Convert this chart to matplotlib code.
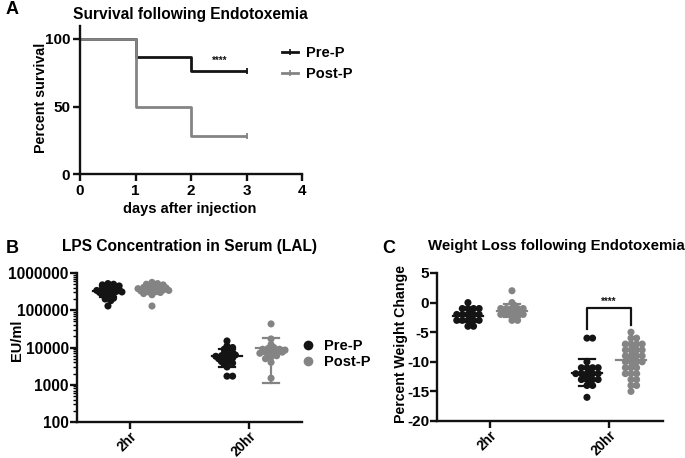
import numpy as np
import matplotlib
matplotlib.use("Agg")
import matplotlib.pyplot as plt
from matplotlib.lines import Line2D
from matplotlib.ticker import LogLocator, NullFormatter

plt.rcParams['font.family'] = ['Liberation Sans', 'DejaVu Sans']
plt.rcParams['font.weight'] = 'bold'
plt.rcParams['axes.unicode_minus'] = False

BLACK = '#141414'
GREY = '#848484'

# ---------------- Data ----------------
# Panel A: Kaplan-Meier survival
surv_days = [0, 1, 2, 3]
surv_pre = [100, 86.5, 76.5, 76.5]
surv_post = [100, 50, 28.5, 28.5]

groups = ['2hr', '20hr']
series = ['Pre-P', 'Post-P']

# Panel B: LPS concentration (EU/ml)
lps_pre_2hr = [130000, 180000, 200000, 210000, 230000, 260000, 280000, 290000, 300000,
               310000, 320000, 330000, 340000, 350000, 360000, 380000, 400000, 420000,
               450000, 480000, 500000, 520000]
lps_post_2hr = [130000, 260000, 280000, 300000, 310000, 320000, 330000, 340000, 350000,
                360000, 370000, 380000, 390000, 400000, 410000, 420000, 440000, 460000,
                480000, 500000, 520000, 560000]
lps_pre_20hr = [1700, 1700, 3000, 3500, 3800, 4000, 4200, 4500, 4800, 5000, 5200, 5500,
                5800, 6000, 6300, 6500, 7000, 7500, 8000, 9000, 10000, 11000, 15000]
lps_post_20hr = [1500, 4000, 5000, 5500, 6000, 6500, 7000, 7000, 7500, 7500, 8000, 8000,
                 8500, 9000, 9000, 9500, 10000, 12000, 17000, 43000]

# Panel C: percent weight change
wt_pre_2hr = [0, -1, -1, -1, -1, -1.5, -2, -2, -2, -2, -2, -2.5, -3, -3, -3, -3, -3,
              -3.5, -4, -4]
wt_post_2hr = [2, 0, -0.5, -1, -1, -1, -1, -1, -1.5, -1.5, -1.5, -1.5, -2, -2, -2, -2,
               -2, -2.5, -3, -3]
wt_pre_20hr = [-6, -6, -10, -11, -11, -11, -11, -11.5, -12, -12, -12, -12, -12, -12.5,
               -12.5, -13, -13, -13, -13, -13.5, -14, -14, -16]
wt_post_20hr = [-5, -6, -6, -7, -7, -7, -7, -7.5, -8, -8, -8, -8, -8.5, -9, -9, -9, -9,
                -9.5, -9.5, -10, -10, -10, -10, -10.5, -11, -11, -11, -12, -12, -12,
                -13, -13, -14, -14, -15]

# ---------------- Figure ----------------
W, H = 685, 458
fig = plt.figure(figsize=(W / 100, H / 100), dpi=100)


def px_axes(left, right, bottom, top):
    return fig.add_axes([left / W, 1 - bottom / H, (right - left) / W, (bottom - top) / H])


def style_axes(ax, lw=1.7):
    for s in ['top', 'right']:
        ax.spines[s].set_visible(False)
    for s in ['left', 'bottom']:
        ax.spines[s].set_linewidth(lw)
        ax.spines[s].set_color('#111111')
    ax.tick_params(which='major', direction='out', length=5, width=lw, color='#111111')


# ---------- Panel A ----------
axA = px_axes(80, 302, 174, 25.5)
style_axes(axA)
axA.step(surv_days, surv_pre, where='post', color=BLACK, lw=2.0, solid_capstyle='butt')
axA.step(surv_days, surv_post, where='post', color=GREY, lw=2.0, solid_capstyle='butt')
axA.plot([surv_days[-1]], [surv_pre[-1]], marker='|', color=BLACK, ms=5, mew=1.3)
axA.plot([surv_days[-1]], [surv_post[-1]], marker='|', color=GREY, ms=5, mew=1.3)
axA.set_xlim(0, 4)
axA.set_ylim(0, 110)
axA.set_xticks([0, 1, 2, 3, 4])
axA.set_yticks([0, 50, 100])
axA.tick_params(labelsize=11, pad=2)
axA.set_xlabel('days after injection', fontsize=10.5, fontweight='bold')
axA.xaxis.set_label_coords(0.495, -0.189)
axA.set_ylabel('Percent survival', fontsize=10.3, fontweight='bold')
axA.yaxis.set_label_coords(-0.145, 0.51)
axA.text(2.52, 80, '****', ha='center', va='bottom', fontsize=7, color=BLACK)
legA = [Line2D([0], [0], color=BLACK, lw=2.0, marker='|', ms=4, mew=1.2),
        Line2D([0], [0], color=GREY, lw=2.0, marker='|', ms=4, mew=1.2)]
axA.legend(legA, series, loc='upper left', bbox_to_anchor=(0.8825, 0.90), frameon=False,
           fontsize=10.5, handlelength=1.1, handletextpad=0.55, labelspacing=0.45,
           borderaxespad=0.0)

fig.text(190 / W, 1 - 15 / H, 'Survival following Endotoxemia', ha='center', va='center',
         fontsize=11.2, fontweight='bold')
fig.text(6 / W, 1 - 10 / H, 'A', ha='left', va='center', fontsize=13, fontweight='bold')


# ---------- swarm helper ----------
def swarm(ax, xc, vals, color, d=7.0, zorder=3):
    vals = np.asarray(vals, dtype=float)
    order = np.argsort(vals)[::-1]
    trans = ax.transData
    ypix = np.array([trans.transform((xc, v))[1] for v in vals])
    xpix0 = trans.transform((xc, vals[0]))[0]
    placed = []
    xs = np.zeros(len(vals))
    min_d = d * 0.48
    step = d * 0.4
    for i in order:
        y = ypix[i]
        k = 0
        while True:
            cands = [0.0] if k == 0 else [k * step, -k * step]
            ok = None
            for c in cands:
                if all((c - px) ** 2 + (y - py) ** 2 >= min_d ** 2 for px, py in placed):
                    ok = c
                    break
            if ok is not None:
                placed.append((ok, y))
                xs[i] = ok
                break
            k += 1
    inv = trans.inverted()
    xdata = [inv.transform((xpix0 + o, ypix[j]))[0] for j, o in enumerate(xs)]
    ax.scatter(xdata, vals, s=26, color=color, edgecolors='none', zorder=zorder)


def mean_sd(ax, xc, vals, color):
    vals = np.asarray(vals, dtype=float)
    m = vals.mean()
    sd = vals.std(ddof=1)
    ax.plot([xc - 0.125, xc + 0.125], [m, m], color=color, lw=1.6, zorder=4)
    ax.plot([xc, xc], [m - sd, m + sd], color=color, lw=1.6, zorder=2)
    for yv in (m - sd, m + sd):
        ax.plot([xc - 0.065, xc + 0.065], [yv, yv], color=color, lw=1.6, zorder=2)


off = 0.185
colors = [BLACK, GREY]

# ---------- Panel B ----------
axB = px_axes(77, 302, 422, 273)
style_axes(axB)
axB.set_yscale('log')
axB.set_ylim(100, 1e6)
axB.set_xlim(-0.445, 1.445)
axB.set_xticks([0, 1])
axB.set_xticklabels(groups, rotation=45, ha='right', va='top', rotation_mode='anchor')
axB.set_yticks([100, 1000, 10000, 100000, 1000000])
axB.set_yticklabels(['100', '1000', '10000', '100000', '1000000'])
axB.yaxis.set_minor_locator(LogLocator(base=10, subs=np.arange(2, 10)))
axB.yaxis.set_minor_formatter(NullFormatter())
axB.tick_params(which='minor', length=3, width=1.0)
axB.tick_params(axis='y', labelsize=11.2, pad=1)
axB.tick_params(axis='x', labelsize=9.8, pad=0)
axB.set_ylabel('EU/ml', fontsize=10.5, fontweight='bold')
axB.yaxis.set_label_coords(-0.237, 0.55)

lps = [[lps_pre_2hr, lps_post_2hr], [lps_pre_20hr, lps_post_20hr]]
for gi in range(2):
    for si in range(2):
        xc = gi + (-off if si == 0 else off)
        mean_sd(axB, xc, lps[gi][si], colors[si])
        swarm(axB, xc, lps[gi][si], colors[si])

hB = [Line2D([0], [0], marker='o', color='none', markerfacecolor=BLACK, markeredgecolor='none', ms=7),
      Line2D([0], [0], marker='o', color='none', markerfacecolor=GREY, markeredgecolor='none', ms=7)]
axB.legend(hB, series, loc='center left', bbox_to_anchor=(1.0, 0.456), frameon=False,
           fontsize=10.5, handlelength=0.8, handletextpad=0.7, labelspacing=0.15,
           borderaxespad=0.0, borderpad=0.0)
fig.text(190 / W, 1 - 247 / H, 'LPS Concentration in Serum (LAL)', ha='center', va='center',
         fontsize=11.2, fontweight='bold')
fig.text(6 / W, 1 - 248 / H, 'B', ha='left', va='center', fontsize=13, fontweight='bold')

# ---------- Panel C ----------
axC = px_axes(437, 663, 421, 273)
style_axes(axC)
axC.set_ylim(-20, 5)
axC.set_xlim(-0.445, 1.454)
axC.set_xticks([0, 1])
axC.set_xticklabels(groups, rotation=45, ha='right', va='top', rotation_mode='anchor')
axC.set_yticks([-20, -15, -10, -5, 0, 5])
axC.tick_params(axis='y', labelsize=11, pad=0.5)
axC.tick_params(axis='x', labelsize=9.8, pad=0)
axC.set_ylabel('Percent Weight Change', fontsize=10.2, fontweight='bold')
axC.yaxis.set_label_coords(-0.128, 0.52)

wt = [[wt_pre_2hr, wt_post_2hr], [wt_pre_20hr, wt_post_20hr]]
for gi in range(2):
    for si in range(2):
        xc = gi + (-off if si == 0 else off)
        mean_sd(axC, xc, wt[gi][si], colors[si])
        swarm(axC, xc, wt[gi][si], colors[si])

axC.plot([1 - off, 1 - off, 1 + off, 1 + off], [-4.5, -0.9, -0.9, -3.7], color=BLACK, lw=1.6)
axC.text(1, -0.75, '****', ha='center', va='bottom', fontsize=7, color=BLACK)
fig.text(556 / W, 1 - 246 / H, 'Weight Loss following Endotoxemia', ha='center', va='center',
         fontsize=10.8, fontweight='bold')
fig.text(382 / W, 1 - 248 / H, 'C', ha='left', va='center', fontsize=13, fontweight='bold')

fig.savefig('out.png', dpi=100)
